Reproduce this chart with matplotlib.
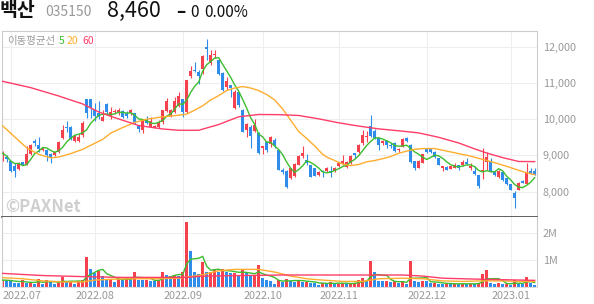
import numpy as np
import pandas as pd
import matplotlib
matplotlib.use('Agg')
import matplotlib.pyplot as plt
from matplotlib.transforms import ScaledTranslation

plt.rcParams['font.family'] = ['Noto Sans CJK KR', 'DejaVu Sans']

# ---- data ----
name = '백산'
code = '035150'
last_price = '8,460'
holidays = ['2022-08-15', '2022-09-09', '2022-09-12', '2022-10-03', '2022-10-10', '2022-12-30']

opens = [8950, 8950, 8840, 8700, 8630, 8810, 8750, 9050, 9400, 9290,
         9160, 9150, 9050, 9010, 9100, 9490, 9790, 9790, 9400, 9400,
         9560, 10550, 10550, 10250, 10180, 9950, 10430, 10080, 10190, 10200,
         10230, 10180, 10160, 10160, 9820, 9700, 9970, 9790, 9770, 9780,
         9910, 10230, 10090, 10190, 10370, 10560, 10190, 11180, 11360, 11300,
         11390, 12000, 11550, 11760, 11620, 11270, 10880, 10930, 10320, 10740,
         10260, 9690, 9790, 9680, 9630, 9210, 9370, 9320, 9420, 9140,
         8590, 8580, 8380, 8430, 8750, 8980, 8870, 8730, 8640, 8470,
         8580, 8560, 8580, 8560, 8700, 8800, 8680, 8800, 9060, 9100,
         9350, 9500, 9820, 9680, 9490, 9350, 9400, 9300, 9350, 9140,
         9230, 9490, 9300, 8840, 8660, 8800, 9170, 9170, 9100, 8920,
         8640, 8680, 8630, 8660, 8730, 8730, 8820, 8640, 8580, 8450,
         8560, 8820, 8840, 8550, 8400, 8550, 8380, 8210, 7960, 8060,
         8300, 8210, 8560, 8560]
highs = [9120, 9000, 8860, 8800, 8820, 8830, 9250, 9320, 9440, 9500,
         9240, 9180, 9080, 9130, 9400, 9830, 9950, 9800, 9560, 9600,
         9950, 10570, 10570, 10460, 10490, 10250, 10440, 10350, 10290, 10300,
         10250, 10230, 10280, 10180, 9830, 10010, 10100, 10060, 9850, 9990,
         10260, 10580, 10270, 10600, 10740, 10560, 11070, 11480, 11570, 11350,
         11760, 12220, 11900, 11900, 11650, 11300, 11160, 10950, 10800, 10750,
         10280, 9900, 9850, 10000, 9640, 9270, 9400, 9550, 9490, 9150,
         8650, 8590, 8650, 8780, 9000, 9260, 9030, 8750, 8650, 8560,
         8600, 8680, 8700, 8680, 8800, 9000, 8850, 9020, 9070, 9310,
         9700, 9680, 10120, 9720, 9510, 9420, 9430, 9330, 9380, 9210,
         9480, 9510, 9310, 8850, 8870, 9040, 9180, 9180, 9120, 8930,
         8710, 8700, 8710, 8780, 8750, 8880, 8930, 8800, 8700, 8460,
         9210, 9100, 8930, 8570, 8610, 8560, 8390, 8220, 8030, 8260,
         8310, 8800, 8640, 8660]
lows = [8840, 8820, 8530, 8400, 8600, 8730, 8730, 9000, 9260, 9100,
        9120, 8860, 8800, 8980, 9080, 9450, 9650, 9420, 9380, 9380,
        9520, 10020, 10030, 9950, 10000, 9940, 10150, 10000, 10130, 10120,
        10040, 10030, 10120, 9880, 9650, 9620, 9870, 9780, 9750, 9760,
        9880, 10200, 10050, 10170, 10350, 10060, 10180, 11150, 11290, 10980,
        11250, 11620, 11500, 11700, 11220, 10780, 10800, 10600, 10290, 10340,
        9650, 9500, 9210, 9650, 9050, 9030, 9100, 9220, 9210, 8600,
        8490, 8100, 8350, 8400, 8740, 8940, 8730, 8400, 8420, 8430,
        8400, 8540, 8400, 8530, 8680, 8750, 8650, 8770, 8920, 9080,
        9300, 9380, 9510, 9440, 9160, 9300, 9210, 9200, 9100, 9100,
        9220, 9370, 8800, 8610, 8650, 8780, 9060, 9060, 8940, 8740,
        8560, 8590, 8620, 8640, 8610, 8720, 8740, 8610, 8450, 8100,
        8360, 8610, 8540, 8440, 8380, 8290, 8190, 8040, 7550, 8040,
        8230, 8200, 8480, 8450]
closes = [9060, 8900, 8580, 8560, 8800, 8750, 9050, 9300, 9350, 9170,
          9210, 9010, 8950, 9100, 9370, 9700, 9750, 9440, 9530, 9510,
          9900, 10180, 10320, 10090, 10050, 10060, 10210, 10200, 10230, 10250,
          10060, 10090, 10250, 9910, 9720, 10000, 9900, 9950, 9820, 9910,
          10250, 10490, 10250, 10490, 10630, 10190, 11070, 11330, 11320, 11200,
          11730, 11940, 11760, 11800, 11250, 10800, 11060, 10860, 10740, 10400,
          9660, 9860, 9530, 9830, 9070, 9260, 9140, 9510, 9300, 8610,
          8540, 8120, 8640, 8770, 8980, 9070, 8800, 8410, 8430, 8550,
          8550, 8660, 8510, 8660, 8780, 8860, 8830, 8980, 9000, 9290,
          9560, 9540, 9540, 9490, 9290, 9400, 9300, 9260, 9120, 9190,
          9440, 9400, 8820, 8640, 8860, 9030, 9100, 9100, 8960, 8750,
          8700, 8610, 8700, 8750, 8660, 8820, 8770, 8700, 8490, 8150,
          8610, 8950, 8560, 8470, 8580, 8310, 8210, 8060, 7820, 8240,
          8240, 8520, 8490, 8460]
# volume in millions of shares
volumes = [0.25, 0.24, 0.21, 0.15, 0.14, 0.24, 0.15, 0.15, 0.12, 0.30,
           0.12, 0.25, 0.17, 0.12, 0.15, 0.35, 0.20, 0.22, 0.12, 0.20, 0.24,
           1.10, 0.65, 0.50, 0.60, 0.40, 0.30, 0.30, 0.17, 0.30, 0.27, 0.37, 0.27,
           0.57, 0.27, 0.25, 0.25, 0.22, 0.20, 0.27, 0.54, 0.45, 0.42, 0.45, 0.42, 0.55,
           2.42, 1.32, 0.54, 0.49, 0.92, 0.57, 0.57, 0.65, 0.57, 0.65, 0.57, 0.52,
           0.52, 0.45, 0.67, 0.52, 0.40, 0.40, 0.80, 0.32, 0.27, 0.22, 0.12,
           0.27, 0.19, 0.30, 0.22, 0.19, 0.25, 0.19, 0.19, 0.15, 0.13, 0.07, 0.15,
           0.12, 0.18, 0.10, 0.12, 0.15, 0.10, 0.12, 0.15, 0.25, 0.32, 0.20, 0.95,
           0.57, 0.22, 0.20, 0.20, 0.19, 0.20, 0.15, 0.20, 0.10, 0.95, 0.20, 0.18,
           0.22, 0.20, 0.15,
           0.15, 0.12, 0.10, 0.12, 0.10, 0.12, 0.10, 0.12, 0.10, 0.12, 0.10, 0.15,
           0.48, 0.62, 0.15, 0.12, 0.15, 0.10, 0.10, 0.08, 0.25, 0.12, 0.10, 0.35,
           0.15, 0.08]

# 20 / 60 day price averages read at selected candles
ma20_idx = [0, 3, 6, 9, 12, 14, 17, 20, 22, 25, 27, 30, 33, 36, 40, 44, 46, 48, 50, 52,
            54, 56, 58, 60, 62, 64, 66, 68, 70, 72, 74, 76, 78, 80, 81, 83, 85, 87, 89, 91,
            93, 95, 97, 99, 101, 103, 105, 108, 111, 114, 117, 120, 123, 126, 129, 131, 133]
ma20_val = [9815, 9510, 9210, 9030, 8935, 8955, 9050, 9170, 9280, 9445, 9615, 9770, 9910, 10000,
            10065, 10110, 10140, 10250, 10370, 10530, 10650, 10790, 10860, 10900, 10860, 10790,
            10680, 10530, 10280, 9970, 9660, 9470, 9260, 9030, 8955, 8860, 8760, 8720, 8750, 8825,
            8860, 8910, 8970, 9060, 9120, 9170, 9190, 9190, 9120, 9050, 8980, 8890, 8800, 8700,
            8590, 8520, 8470]
ma60_idx = [0, 7, 14, 20, 24, 27, 34, 40, 44, 49, 54, 59, 64, 69, 74, 79, 84, 89, 94, 99,
            104, 109, 114, 118, 121, 125, 129, 133]
ma60_val = [11045, 10870, 10640, 10420, 10200, 10080, 9825, 9730, 9694, 9694, 9853, 10067, 10130,
            10125, 10103, 10010, 9900, 9810, 9733, 9680, 9622, 9500, 9344, 9180, 9067, 8940,
            8833, 8830]
# 20 / 60 day volume averages (millions)
vma20_idx = [0, 5, 10, 15, 20, 23, 27, 32, 38, 44, 47, 50, 54, 58, 64, 68, 72, 76, 80, 85,
             90, 94, 100, 105, 110, 115, 120, 125, 129, 133]
vma20_val = [0.34, 0.30, 0.22, 0.18, 0.18, 0.25, 0.28, 0.30, 0.30, 0.32, 0.38, 0.45, 0.60, 0.65,
             0.65, 0.55, 0.40, 0.30, 0.25, 0.20, 0.20, 0.30, 0.32, 0.30, 0.22, 0.20, 0.22, 0.22,
             0.20, 0.20]
vma60_idx = [0, 10, 20, 30, 40, 46, 50, 60, 70, 80, 90, 100, 105, 110, 120, 133]
vma60_val = [0.50, 0.42, 0.38, 0.35, 0.35, 0.35, 0.40, 0.42, 0.44, 0.44, 0.44, 0.44, 0.40, 0.32,
             0.28, 0.24]

# ---- styling ----
RED = '#f5404e'
BLUE = '#2f8ceb'
GREEN = '#3cbd2e'
ORANGE = '#ffad2f'
PINK = '#ff3d68'
GRID = '#eeeeee'
LABEL = '#999999'

dates = pd.bdate_range('2022-06-29', '2023-01-10')
dates = dates[~dates.isin(pd.to_datetime(holidays))]
x = np.arange(len(dates))
months = dates.strftime('%Y.%m')
month_pos = [i for i in range(1, len(dates)) if months[i] != months[i - 1]]
month_lab = [months[i] for i in month_pos]

o = np.array(opens, float)
h = np.array(highs, float)
l = np.array(lows, float)
c = np.array(closes, float)
v = np.array(volumes, float)
ma5 = pd.Series(c).rolling(5, min_periods=1).mean()
vma5 = pd.Series(v).rolling(5, min_periods=1).mean()

W, H = 594, 304
fig = plt.figure(figsize=(W / 100, H / 100), dpi=100)


def box(left, top, right, bottom):
    return [left / W, 1 - bottom / H, (right - left) / W, (bottom - top) / H]


ax = fig.add_axes(box(2, 30.7, 537, 217))
axv = fig.add_axes(box(2, 217, 537, 287.3), sharex=ax)

# candles
col = np.where(c >= o, RED, BLUE)
ax.vlines(x, l, h, colors=col, lw=0.8, zorder=2)
ax.bar(x, np.maximum(np.abs(c - o), 25), bottom=np.minimum(o, c), width=0.72,
       color=col, lw=0, zorder=2)
ax.plot(x, ma5, color=GREEN, lw=1, zorder=3)
ax.plot(ma20_idx, ma20_val, color=ORANGE, lw=1, zorder=3)
ax.plot(ma60_idx, ma60_val, color=PINK, lw=1, zorder=3)

# volume, coloured by change against the previous day
vdiff = np.diff(v, prepend=0)
vcol = np.where(vdiff >= 0, RED, BLUE)
axv.bar(x, v, width=0.72, color=vcol, lw=0, zorder=2)
axv.plot(x, vma5, color=GREEN, lw=1, zorder=3)
axv.plot(vma20_idx, vma20_val, color=ORANGE, lw=1, zorder=3)
axv.plot(vma60_idx, vma60_val, color=PINK, lw=1, zorder=3)

ax.set_xlim(-0.18, 133.58)
ax.set_ylim(7302, 12441)
axv.set_ylim(-0.02, 2.61)

ax.set_yticks([8000, 9000, 10000, 11000, 12000])
ax.set_yticklabels([f'{t:,}' for t in [8000, 9000, 10000, 11000, 12000]])
axv.set_yticks([1, 2])
axv.set_yticklabels(['1M', '2M'])
axv.set_xticks(month_pos)
axv.set_xticklabels(month_lab)

for a in (ax, axv):
    a.yaxis.tick_right()
    a.grid(color=GRID, lw=0.8)
    a.set_axisbelow(True)
    a.tick_params(axis='y', length=0, pad=4, labelsize=7.8, labelcolor=LABEL)
    a.tick_params(axis='x', length=0, pad=3, labelsize=7.8, labelcolor=LABEL)
    for s in ('left', 'right', 'top'):
        a.spines[s].set_color('#cccccc')
ax.tick_params(axis='x', labelbottom=False)
ax.spines['bottom'].set_color('#444444')
ax.spines['bottom'].set_linewidth(1.2)
axv.spines['top'].set_visible(False)
axv.spines['bottom'].set_color('#dddddd')

# first month label is pushed inside the frame
first = axv.get_xticklabels()[0]
first.set_horizontalalignment('left')
first.set_transform(first.get_transform() + ScaledTranslation(-0.08, 0, fig.dpi_scale_trans))


# header
def px(xp, yp):
    return xp / W, 1 - yp / H


fig.text(*px(0, 11), name, fontsize=14, fontweight='bold', color='#111111', va='center')
fig.text(*px(45, 12), code, fontsize=10, color='#999999', va='center')
fig.text(*px(107, 11), last_price, fontsize=15.5, color='#111111', va='center')
fig.text(*px(176, 12), '–', fontsize=12, fontweight='bold', color='#111111', va='center')
fig.text(*px(190, 12.5), '0', fontsize=11, color='#111111', va='center')
fig.text(*px(204, 12.5), '0.00%', fontsize=11, color='#111111', va='center')

# legend
fig.text(*px(7, 41), '이동평균선', fontsize=7.5, color='#999999', va='center')
fig.text(*px(59, 41), '5', fontsize=7.5, color=GREEN, va='center')
fig.text(*px(67, 41), '20', fontsize=7.5, color=ORANGE, va='center')
fig.text(*px(82, 41), '60', fontsize=7.5, color=PINK, va='center')

# watermark
fig.text(*px(5, 207), '©PAXNet', fontsize=12, fontweight='bold', color='#cfcfcf', va='center')

fig.savefig('out.png', dpi=100)
